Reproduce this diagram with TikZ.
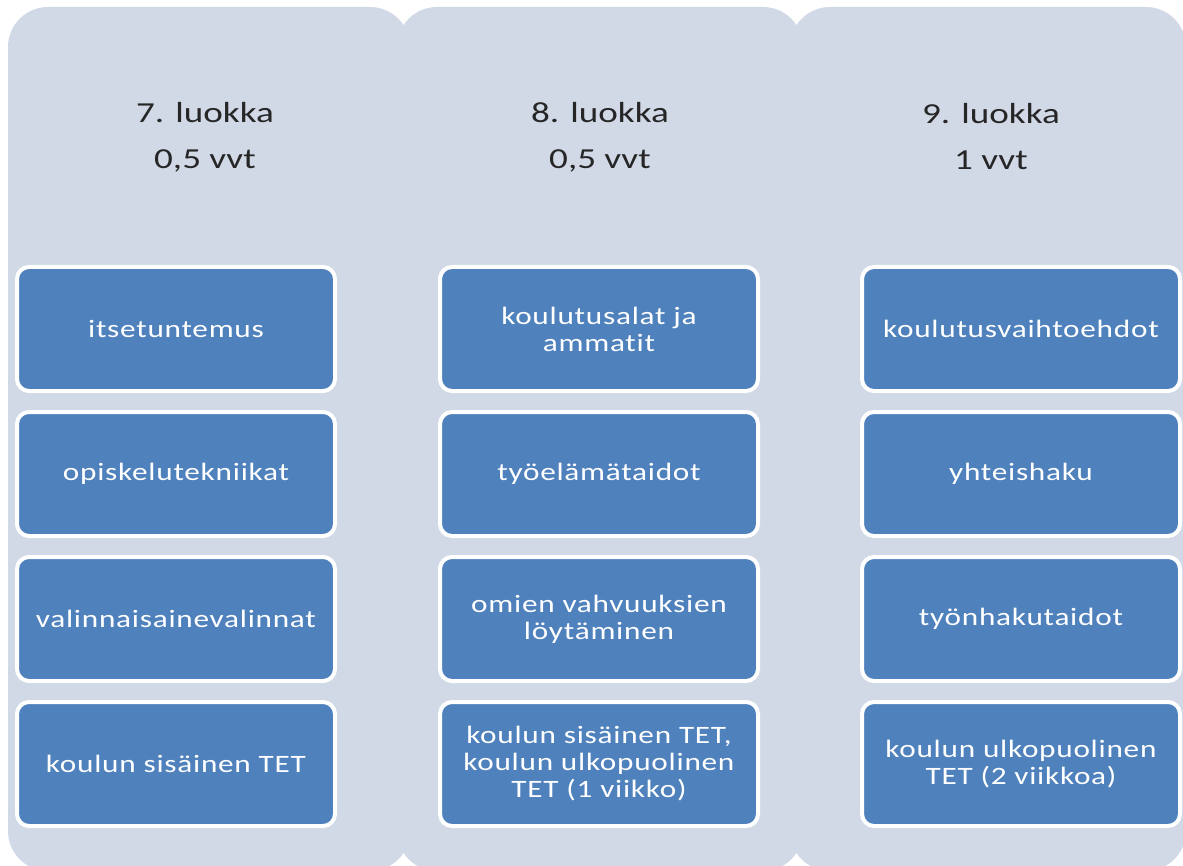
\documentclass[tikz,border=0pt]{standalone}
\usepackage{fontspec}
\setmainfont{Carlito}
\newfontfamily\headfont{Carlito}[FakeStretch=1.28]
\newfontfamily\boxfont{Carlito}[FakeStretch=1.25,LetterSpace=3.0,Ligatures=NoCommon]
\definecolor{colbg}{HTML}{D1D9E7}
\definecolor{boxblue}{HTML}{4F81BD}
\definecolor{headtxt}{HTML}{262626}
\begin{document}
\begin{tikzpicture}[x=1pt,y=-1pt,
  gradecol/.style={fill=colbg,rounded corners=40pt,minimum height=864pt,inner sep=0pt},
  gradehead/.style={text=headtxt,align=center,font=\headfont\fontsize{29}{46}\selectfont},
  topic/.style={fill=boxblue,draw=white,line width=4pt,rounded corners=12pt,
    minimum width=318pt,minimum height=124pt,inner sep=2pt,text=white,align=center,
    font=\boxfont\fontsize{25}{27}\selectfont}]
\useasboundingbox (0,0) rectangle (1183,866);
% columns
\node[gradecol,minimum width=402pt] (col7) at (209,439) {};
\node[gradecol,minimum width=406pt] (col8) at (600,439) {};
\node[gradecol,minimum width=396pt] (col9) at (988,439) {};
% headings
\node[gradehead] (h7) at (205,137) {7. luokka\\0,5 vvt};
\node[gradehead] (h8) at (600,137) {8. luokka\\0,5 vvt};
\node[gradehead] (h9) at (991,137) {9. luokka\\1 vvt};
% 7. luokka
\node[topic] (a1) at (176,329) {itsetuntemus};
\node[topic] (a2) at (176,474) {opiskelutekniikat};
\node[topic] (a3) at (176,619) {valinnaisainevalinnat};
\node[topic] (a4) at (176,764) {koulun sisäinen TET};
% 8. luokka
\node[topic] (b1) at (599,329) {koulutusalat ja\\ammatit};
\node[topic] (b2) at (599,474) {työelämätaidot};
\node[topic] (b3) at (599,619) {omien vahvuuksien\\löytäminen};
\node[topic] (b4) at (599,764) {koulun sisäinen TET,\\koulun ulkopuolinen\\TET (1 viikko)};
% 9. luokka
\node[topic] (c1) at (1021,329) {koulutusvaihtoehdot};
\node[topic] (c2) at (1021,474) {yhteishaku};
\node[topic] (c3) at (1021,619) {työnhakutaidot};
\node[topic] (c4) at (1021,764) {koulun ulkopuolinen\\TET (2 viikkoa)};
\end{tikzpicture}
\end{document}
